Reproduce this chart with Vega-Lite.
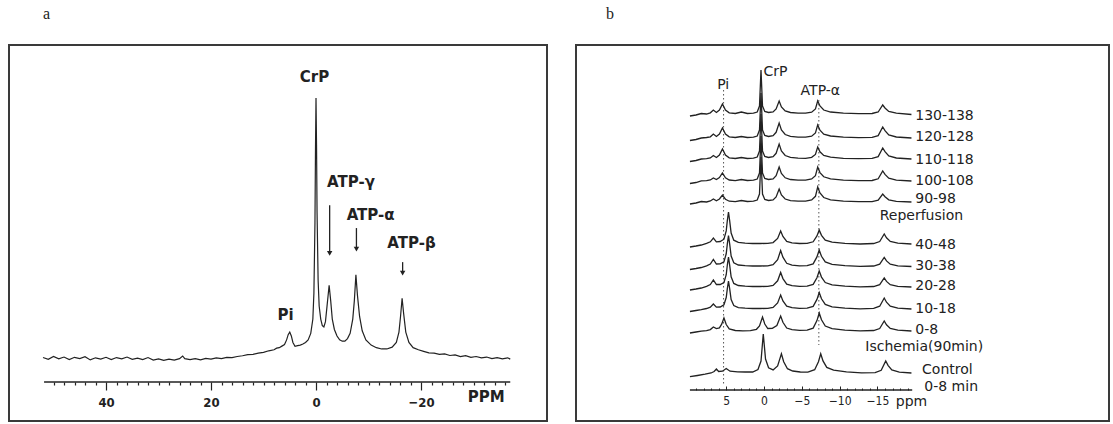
{
  "$schema": "https://vega.github.io/schema/vega-lite/v6.json",
  "background": "white",
  "padding": {"left": 8, "top": 5, "right": 5, "bottom": 3},
  "config": {
    "view": {"stroke": "#3a3a3a", "strokeWidth": 2},
    "title": {"font": "Liberation Serif", "fontSize": 16, "fontWeight": "normal", "anchor": "start", "color": "#222", "baseline": "alphabetic", "offset": 23}
  },
  "spacing": 29,
  "bounds": "flush",
  "datasets": {
    "specA": [
      {"x":52,"y":0.2},{"x":51,"y":-0.5},{"x":50,"y":0.6},{"x":49,"y":-0.3},{"x":48,"y":0.4},{"x":47,"y":-0.6},{"x":46,"y":0.3},{"x":45,"y":-0.2},{"x":44,"y":0.5},{"x":43,"y":-0.7},{"x":42,"y":0.1},{"x":41,"y":-0.4},{"x":40,"y":0.3},{"x":39,"y":-0.6},{"x":38,"y":0.2},{"x":37,"y":-0.3},{"x":36,"y":0.4},{"x":35,"y":-0.5},{"x":34,"y":0.0},{"x":33,"y":-0.6},{"x":32,"y":0.2},{"x":31,"y":-0.8},{"x":30,"y":-0.3},{"x":29,"y":-0.9},{"x":28,"y":-0.4},{"x":27,"y":-0.8},{"x":26,"y":-0.2},{"x":25.4,"y":0.8},{"x":25,"y":-0.2},{"x":24,"y":-0.6},{"x":23,"y":-0.2},{"x":22,"y":-0.7},{"x":21,"y":-0.1},{"x":20,"y":-0.4},{"x":19,"y":0.1},{"x":18,"y":-0.2},{"x":17,"y":0.3},{"x":16,"y":0.2},{"x":15,"y":0.6},{"x":14,"y":0.9},{"x":13,"y":1.3},{"x":12,"y":1.4},{"x":11,"y":1.9},{"x":10,"y":2.2},{"x":9,"y":2.8},{"x":8,"y":3.2},{"x":7.5,"y":3.8},{"x":7,"y":4.0},{"x":6.5,"y":4.6},{"x":6,"y":5.2},{"x":5.6,"y":7},{"x":5.3,"y":9},{"x":5.0,"y":10},{"x":4.7,"y":8.5},{"x":4.4,"y":6},{"x":4.0,"y":4.5},{"x":3.5,"y":4.8},{"x":3.0,"y":5.0},{"x":2.5,"y":5.4},{"x":2.0,"y":6.0},{"x":1.5,"y":7.0},{"x":1.0,"y":9.5},{"x":0.6,"y":15},{"x":0.4,"y":25},{"x":0.2,"y":52},{"x":0.1,"y":80},{"x":0,"y":100},{"x":-0.1,"y":82},{"x":-0.2,"y":56},{"x":-0.4,"y":30},{"x":-0.6,"y":20},{"x":-0.9,"y":15},{"x":-1.2,"y":12.5},{"x":-1.5,"y":12},{"x":-1.8,"y":14},{"x":-2.1,"y":20},{"x":-2.5,"y":28},{"x":-2.8,"y":22},{"x":-3.1,"y":15},{"x":-3.5,"y":11},{"x":-4.0,"y":8.5},{"x":-4.5,"y":7},{"x":-5.0,"y":6.5},{"x":-5.5,"y":6.5},{"x":-6.0,"y":7.5},{"x":-6.5,"y":9.5},{"x":-7.0,"y":15},{"x":-7.3,"y":22},{"x":-7.6,"y":32},{"x":-7.9,"y":24},{"x":-8.3,"y":16},{"x":-8.8,"y":10.5},{"x":-9.5,"y":7},{"x":-10.5,"y":5},{"x":-11.5,"y":4},{"x":-12.5,"y":3.5},{"x":-13.5,"y":3.5},{"x":-14.5,"y":4.2},{"x":-15.3,"y":6},{"x":-15.8,"y":10},{"x":-16.1,"y":16},{"x":-16.4,"y":23},{"x":-16.7,"y":17},{"x":-17.1,"y":10},{"x":-17.7,"y":6},{"x":-18.5,"y":4},{"x":-19.5,"y":3.2},{"x":-20.5,"y":2.6},{"x":-21.5,"y":2.0},{"x":-22.5,"y":1.9},{"x":-23.5,"y":1.4},{"x":-24.5,"y":1.6},{"x":-25.5,"y":1.0},{"x":-26.5,"y":1.2},{"x":-27.5,"y":0.6},{"x":-28.5,"y":0.9},{"x":-29.5,"y":0.3},{"x":-30.5,"y":0.6},{"x":-31.5,"y":0.1},{"x":-32.5,"y":0.4},{"x":-33.5,"y":-0.2},{"x":-34.5,"y":0.2},{"x":-35.5,"y":-0.3},{"x":-36.5,"y":0.1},{"x":-37,"y":-0.4}
    ],
    "axisA": [{"x": 51.8, "x2": -37, "y": -9.23}],
    "arrowsA": [
      {"x": -2.6, "y": 58.8, "tip": 40.3},
      {"x": -7.7, "y": 50, "tip": 41.9},
      {"x": -16.5, "y": 36.9, "tip": 32.7}
    ],
    "labelsA": [
      {"x": 0.3, "y": 108.1, "label": "CrP"},
      {"x": -6.67, "y": 67.7, "label": "ATP-γ"},
      {"x": -10.4, "y": 55, "label": "ATP-α"},
      {"x": -18.2, "y": 44.2, "label": "ATP-β"},
      {"x": 5.8, "y": 16.5, "label": "Pi"},
      {"x": -32.4, "y": -15, "label": "PPM"}
    ],
    "axisB": [{"x": 9.8, "x2": -19.6, "y": 0}],
    "dotsB": [
      {"x": 5.35, "y": 300, "y2": 5},
      {"x": -7.25, "y": 290, "y2": 45}
    ],
    "labelsBLeft": [
      {"x": -20.0, "y": 274, "label": "130-138"},
      {"x": -20.0, "y": 253, "label": "120-128"},
      {"x": -20.0, "y": 230, "label": "110-118"},
      {"x": -20.0, "y": 209, "label": "100-108"},
      {"x": -20.0, "y": 191, "label": "90-98"},
      {"x": -15.3, "y": 174, "label": "Reperfusion"},
      {"x": -20.0, "y": 145, "label": "40-48"},
      {"x": -20.0, "y": 124, "label": "30-38"},
      {"x": -20.0, "y": 104, "label": "20-28"},
      {"x": -20.0, "y": 81, "label": "10-18"},
      {"x": -20.0, "y": 60, "label": "0-8"},
      {"x": -13.4, "y": 43, "label": "Ischemia(90min)"},
      {"x": -20.9, "y": 20, "label": "Control"},
      {"x": -21.2, "y": 3, "label": "0-8 min"}
    ],
    "labelsBCenter": [
      {"x": 5.4, "y": 305, "label": "Pi"},
      {"x": -1.5, "y": 318, "label": "CrP"},
      {"x": -7.45, "y": 299, "label": "ATP-α"},
      {"x": -19.5, "y": -11.5, "label": "ppm"}
    ],
    "specB": [
      {"s":"130-138","x":9.8,"y":274},{"s":"130-138","x":9.0,"y":275},{"s":"130-138","x":8.3,"y":276.5},{"s":"130-138","x":7.6,"y":276},{"s":"130-138","x":7.1,"y":277.2},{"s":"130-138","x":6.7,"y":280},{"s":"130-138","x":6.3,"y":277.5},{"s":"130-138","x":5.9,"y":280},{"s":"130-138","x":5.5,"y":286},{"s":"130-138","x":5.1,"y":280},{"s":"130-138","x":4.6,"y":277.2},{"s":"130-138","x":3.8,"y":276.5},{"s":"130-138","x":3.0,"y":278},{"s":"130-138","x":2.2,"y":276.5},{"s":"130-138","x":1.4,"y":276.8},{"s":"130-138","x":0.9,"y":278},{"s":"130-138","x":0.6,"y":284},{"s":"130-138","x":0.4,"y":320},{"s":"130-138","x":0.2,"y":284},{"s":"130-138","x":-0.1,"y":278.5},{"s":"130-138","x":-0.6,"y":277.5},{"s":"130-138","x":-1.2,"y":278},{"s":"130-138","x":-1.6,"y":281},{"s":"130-138","x":-2.0,"y":289},{"s":"130-138","x":-2.3,"y":283},{"s":"130-138","x":-2.8,"y":279},{"s":"130-138","x":-3.5,"y":277.5},{"s":"130-138","x":-4.5,"y":276.8},{"s":"130-138","x":-5.5,"y":276.8},{"s":"130-138","x":-6.3,"y":277.8},{"s":"130-138","x":-6.8,"y":281},{"s":"130-138","x":-7.1,"y":289},{"s":"130-138","x":-7.4,"y":284},{"s":"130-138","x":-7.9,"y":280},{"s":"130-138","x":-8.8,"y":278},{"s":"130-138","x":-10.5,"y":276.8},{"s":"130-138","x":-12.5,"y":276.3},{"s":"130-138","x":-14.3,"y":276.5},{"s":"130-138","x":-15.1,"y":278},{"s":"130-138","x":-15.7,"y":285},{"s":"130-138","x":-16.0,"y":282},{"s":"130-138","x":-16.5,"y":278.5},{"s":"130-138","x":-17.5,"y":276.8},{"s":"130-138","x":-19.5,"y":275.5},
      {"s":"120-128","x":9.8,"y":249.5},{"s":"120-128","x":9.0,"y":250.5},{"s":"120-128","x":8.3,"y":252},{"s":"120-128","x":7.6,"y":252.5},{"s":"120-128","x":7.1,"y":253.2},{"s":"120-128","x":6.7,"y":256},{"s":"120-128","x":6.3,"y":253.5},{"s":"120-128","x":5.9,"y":256},{"s":"120-128","x":5.5,"y":262},{"s":"120-128","x":5.1,"y":256},{"s":"120-128","x":4.6,"y":253.2},{"s":"120-128","x":3.8,"y":252.5},{"s":"120-128","x":3.0,"y":253.5},{"s":"120-128","x":2.2,"y":252.5},{"s":"120-128","x":1.4,"y":252.8},{"s":"120-128","x":0.9,"y":254},{"s":"120-128","x":0.6,"y":260},{"s":"120-128","x":0.4,"y":297},{"s":"120-128","x":0.2,"y":260},{"s":"120-128","x":-0.1,"y":254.5},{"s":"120-128","x":-0.6,"y":253.5},{"s":"120-128","x":-1.2,"y":254.3},{"s":"120-128","x":-1.6,"y":257.7},{"s":"120-128","x":-2.0,"y":267},{"s":"120-128","x":-2.3,"y":260.1},{"s":"120-128","x":-2.8,"y":255.5},{"s":"120-128","x":-3.5,"y":253.7},{"s":"120-128","x":-4.5,"y":252.9},{"s":"120-128","x":-5.5,"y":252.8},{"s":"120-128","x":-6.3,"y":253.8},{"s":"120-128","x":-6.8,"y":257},{"s":"120-128","x":-7.1,"y":265},{"s":"120-128","x":-7.4,"y":259.8},{"s":"120-128","x":-7.9,"y":255.9},{"s":"120-128","x":-8.8,"y":254},{"s":"120-128","x":-10.5,"y":252.8},{"s":"120-128","x":-12.5,"y":252.3},{"s":"120-128","x":-14.3,"y":252.6},{"s":"120-128","x":-15.1,"y":254.4},{"s":"120-128","x":-15.7,"y":263},{"s":"120-128","x":-16.0,"y":259.3},{"s":"120-128","x":-16.5,"y":255.1},{"s":"120-128","x":-17.5,"y":253},{"s":"120-128","x":-19.5,"y":252},
      {"s":"110-118","x":9.8,"y":228.5},{"s":"110-118","x":9.0,"y":229.5},{"s":"110-118","x":8.3,"y":231},{"s":"110-118","x":7.6,"y":231.3},{"s":"110-118","x":7.1,"y":232},{"s":"110-118","x":6.7,"y":234.5},{"s":"110-118","x":6.3,"y":232.5},{"s":"110-118","x":5.9,"y":235},{"s":"110-118","x":5.5,"y":241},{"s":"110-118","x":5.1,"y":235},{"s":"110-118","x":4.6,"y":232.2},{"s":"110-118","x":3.8,"y":231.5},{"s":"110-118","x":3.0,"y":232.5},{"s":"110-118","x":2.2,"y":231.5},{"s":"110-118","x":1.4,"y":231.8},{"s":"110-118","x":0.9,"y":233},{"s":"110-118","x":0.6,"y":239},{"s":"110-118","x":0.4,"y":276},{"s":"110-118","x":0.2,"y":239},{"s":"110-118","x":-0.1,"y":233.5},{"s":"110-118","x":-0.6,"y":232.5},{"s":"110-118","x":-1.2,"y":233.3},{"s":"110-118","x":-1.6,"y":236.7},{"s":"110-118","x":-2.0,"y":246},{"s":"110-118","x":-2.3,"y":239.1},{"s":"110-118","x":-2.8,"y":234.5},{"s":"110-118","x":-3.5,"y":232.7},{"s":"110-118","x":-4.5,"y":231.9},{"s":"110-118","x":-5.5,"y":231.7},{"s":"110-118","x":-6.3,"y":232.7},{"s":"110-118","x":-6.8,"y":235.6},{"s":"110-118","x":-7.1,"y":243},{"s":"110-118","x":-7.4,"y":238.2},{"s":"110-118","x":-7.9,"y":234.6},{"s":"110-118","x":-8.8,"y":232.8},{"s":"110-118","x":-10.5,"y":231.7},{"s":"110-118","x":-12.5,"y":231.3},{"s":"110-118","x":-14.3,"y":231.6},{"s":"110-118","x":-15.1,"y":233.4},{"s":"110-118","x":-15.7,"y":242},{"s":"110-118","x":-16.0,"y":238.3},{"s":"110-118","x":-16.5,"y":234.1},{"s":"110-118","x":-17.5,"y":232},{"s":"110-118","x":-19.5,"y":231},
      {"s":"100-108","x":9.8,"y":206.5},{"s":"100-108","x":9.0,"y":207.5},{"s":"100-108","x":8.3,"y":209.2},{"s":"100-108","x":7.6,"y":209.3},{"s":"100-108","x":7.1,"y":210},{"s":"100-108","x":6.7,"y":212},{"s":"100-108","x":6.3,"y":210.5},{"s":"100-108","x":5.9,"y":212.5},{"s":"100-108","x":5.5,"y":217},{"s":"100-108","x":5.1,"y":212.2},{"s":"100-108","x":4.6,"y":210},{"s":"100-108","x":3.8,"y":209.4},{"s":"100-108","x":3.0,"y":210.5},{"s":"100-108","x":2.2,"y":209.5},{"s":"100-108","x":1.4,"y":209.8},{"s":"100-108","x":0.9,"y":211},{"s":"100-108","x":0.6,"y":217},{"s":"100-108","x":0.4,"y":254},{"s":"100-108","x":0.2,"y":217},{"s":"100-108","x":-0.1,"y":211.5},{"s":"100-108","x":-0.6,"y":210.5},{"s":"100-108","x":-1.2,"y":211.1},{"s":"100-108","x":-1.6,"y":214.3},{"s":"100-108","x":-2.0,"y":223},{"s":"100-108","x":-2.3,"y":216.6},{"s":"100-108","x":-2.8,"y":212.2},{"s":"100-108","x":-3.5,"y":210.5},{"s":"100-108","x":-4.5,"y":209.8},{"s":"100-108","x":-5.5,"y":209.8},{"s":"100-108","x":-6.3,"y":211},{"s":"100-108","x":-6.8,"y":214.3},{"s":"100-108","x":-7.1,"y":223},{"s":"100-108","x":-7.4,"y":217.4},{"s":"100-108","x":-7.9,"y":213.2},{"s":"100-108","x":-8.8,"y":211.1},{"s":"100-108","x":-10.5,"y":209.8},{"s":"100-108","x":-12.5,"y":209.3},{"s":"100-108","x":-14.3,"y":209.5},{"s":"100-108","x":-15.1,"y":211.2},{"s":"100-108","x":-15.7,"y":219},{"s":"100-108","x":-16.0,"y":215.6},{"s":"100-108","x":-16.5,"y":211.8},{"s":"100-108","x":-17.5,"y":209.9},{"s":"100-108","x":-19.5,"y":209},
      {"s":"90-98","x":9.8,"y":186},{"s":"90-98","x":9.0,"y":187},{"s":"90-98","x":8.3,"y":188.5},{"s":"90-98","x":7.6,"y":188},{"s":"90-98","x":7.1,"y":189},{"s":"90-98","x":6.7,"y":191},{"s":"90-98","x":6.3,"y":189.3},{"s":"90-98","x":5.9,"y":191},{"s":"90-98","x":5.5,"y":195},{"s":"90-98","x":5.1,"y":190.8},{"s":"90-98","x":4.6,"y":188.8},{"s":"90-98","x":3.8,"y":188.3},{"s":"90-98","x":3.0,"y":189.5},{"s":"90-98","x":2.2,"y":188.5},{"s":"90-98","x":1.4,"y":188.8},{"s":"90-98","x":0.9,"y":190},{"s":"90-98","x":0.6,"y":196},{"s":"90-98","x":0.4,"y":233},{"s":"90-98","x":0.2,"y":196},{"s":"90-98","x":-0.1,"y":190.5},{"s":"90-98","x":-0.6,"y":189.5},{"s":"90-98","x":-1.2,"y":190},{"s":"90-98","x":-1.6,"y":193},{"s":"90-98","x":-2.0,"y":201},{"s":"90-98","x":-2.3,"y":195},{"s":"90-98","x":-2.8,"y":191},{"s":"90-98","x":-3.5,"y":189.4},{"s":"90-98","x":-4.5,"y":188.8},{"s":"90-98","x":-5.5,"y":188.9},{"s":"90-98","x":-6.3,"y":190.1},{"s":"90-98","x":-6.8,"y":193.7},{"s":"90-98","x":-7.1,"y":203},{"s":"90-98","x":-7.4,"y":197},{"s":"90-98","x":-7.9,"y":192.5},{"s":"90-98","x":-8.8,"y":190.2},{"s":"90-98","x":-10.5,"y":188.9},{"s":"90-98","x":-12.5,"y":188.3},{"s":"90-98","x":-14.3,"y":188.4},{"s":"90-98","x":-15.1,"y":189.8},{"s":"90-98","x":-15.7,"y":196},{"s":"90-98","x":-16.0,"y":193.3},{"s":"90-98","x":-16.5,"y":190.2},{"s":"90-98","x":-17.5,"y":188.7},{"s":"90-98","x":-19.5,"y":188},
      {"s":"40-48","x":9.8,"y":143},{"s":"40-48","x":9.0,"y":144},{"s":"40-48","x":8.3,"y":145},{"s":"40-48","x":7.6,"y":146.6},{"s":"40-48","x":7.1,"y":148.2},{"s":"40-48","x":6.7,"y":152},{"s":"40-48","x":6.3,"y":148.2},{"s":"40-48","x":5.8,"y":148.5},{"s":"40-48","x":5.3,"y":150.8},{"s":"40-48","x":5.0,"y":159.1},{"s":"40-48","x":4.85,"y":169.7},{"s":"40-48","x":4.7,"y":178},{"s":"40-48","x":4.55,"y":169.7},{"s":"40-48","x":4.35,"y":156.9},{"s":"40-48","x":4.0,"y":149.8},{"s":"40-48","x":3.4,"y":147.6},{"s":"40-48","x":2.5,"y":146.8},{"s":"40-48","x":1.5,"y":146.5},{"s":"40-48","x":0.5,"y":146.5},{"s":"40-48","x":-0.5,"y":146.6},{"s":"40-48","x":-1.2,"y":147.4},{"s":"40-48","x":-1.8,"y":151.6},{"s":"40-48","x":-2.2,"y":159},{"s":"40-48","x":-2.5,"y":153.5},{"s":"40-48","x":-3.0,"y":148.6},{"s":"40-48","x":-3.7,"y":147.2},{"s":"40-48","x":-4.7,"y":146.5},{"s":"40-48","x":-5.7,"y":146.7},{"s":"40-48","x":-6.5,"y":148.2},{"s":"40-48","x":-7.0,"y":154.1},{"s":"40-48","x":-7.3,"y":160},{"s":"40-48","x":-7.6,"y":154.7},{"s":"40-48","x":-8.1,"y":149.9},{"s":"40-48","x":-9.0,"y":147.8},{"s":"40-48","x":-10.7,"y":146.7},{"s":"40-48","x":-12.7,"y":146},{"s":"40-48","x":-14.5,"y":146.5},{"s":"40-48","x":-15.3,"y":148.5},{"s":"40-48","x":-15.9,"y":156},{"s":"40-48","x":-16.2,"y":152.2},{"s":"40-48","x":-16.7,"y":148.5},{"s":"40-48","x":-17.7,"y":146.8},{"s":"40-48","x":-19.5,"y":146},
      {"s":"30-38","x":9.8,"y":120.5},{"s":"30-38","x":9.0,"y":121.5},{"s":"30-38","x":8.3,"y":122.5},{"s":"30-38","x":7.6,"y":124.2},{"s":"30-38","x":7.1,"y":126},{"s":"30-38","x":6.7,"y":130.5},{"s":"30-38","x":6.3,"y":126},{"s":"30-38","x":5.8,"y":126.1},{"s":"30-38","x":5.3,"y":128.2},{"s":"30-38","x":5.0,"y":136.2},{"s":"30-38","x":4.85,"y":146.4},{"s":"30-38","x":4.7,"y":154.5},{"s":"30-38","x":4.55,"y":146.4},{"s":"30-38","x":4.35,"y":134},{"s":"30-38","x":4.0,"y":127.2},{"s":"30-38","x":3.4,"y":125},{"s":"30-38","x":2.5,"y":124.3},{"s":"30-38","x":1.5,"y":124},{"s":"30-38","x":0.5,"y":124},{"s":"30-38","x":-0.5,"y":124.1},{"s":"30-38","x":-1.2,"y":125.3},{"s":"30-38","x":-1.8,"y":130.4},{"s":"30-38","x":-2.2,"y":139.5},{"s":"30-38","x":-2.5,"y":132.8},{"s":"30-38","x":-3.0,"y":126.7},{"s":"30-38","x":-3.7,"y":124.9},{"s":"30-38","x":-4.7,"y":124.1},{"s":"30-38","x":-5.7,"y":124.3},{"s":"30-38","x":-6.5,"y":126.1},{"s":"30-38","x":-7.0,"y":133.1},{"s":"30-38","x":-7.3,"y":140},{"s":"30-38","x":-7.6,"y":133.7},{"s":"30-38","x":-8.1,"y":128.1},{"s":"30-38","x":-9.0,"y":125.6},{"s":"30-38","x":-10.7,"y":124.3},{"s":"30-38","x":-12.7,"y":123.6},{"s":"30-38","x":-14.5,"y":124},{"s":"30-38","x":-15.3,"y":125.8},{"s":"30-38","x":-15.9,"y":132.5},{"s":"30-38","x":-16.2,"y":129.1},{"s":"30-38","x":-16.7,"y":125.8},{"s":"30-38","x":-17.7,"y":124.2},{"s":"30-38","x":-19.5,"y":123.5},
      {"s":"20-28","x":9.8,"y":100},{"s":"20-28","x":9.0,"y":101},{"s":"20-28","x":8.3,"y":102},{"s":"20-28","x":7.6,"y":103.7},{"s":"20-28","x":7.1,"y":105.5},{"s":"20-28","x":6.7,"y":110},{"s":"20-28","x":6.3,"y":105.5},{"s":"20-28","x":5.8,"y":105.5},{"s":"20-28","x":5.3,"y":107.5},{"s":"20-28","x":5.0,"y":115.3},{"s":"20-28","x":4.85,"y":125.2},{"s":"20-28","x":4.7,"y":133},{"s":"20-28","x":4.55,"y":125.2},{"s":"20-28","x":4.35,"y":113.2},{"s":"20-28","x":4.0,"y":106.6},{"s":"20-28","x":3.4,"y":104.5},{"s":"20-28","x":2.5,"y":103.8},{"s":"20-28","x":1.5,"y":103.5},{"s":"20-28","x":0.5,"y":103.5},{"s":"20-28","x":-0.5,"y":103.6},{"s":"20-28","x":-1.2,"y":104.6},{"s":"20-28","x":-1.8,"y":109.2},{"s":"20-28","x":-2.2,"y":117.5},{"s":"20-28","x":-2.5,"y":111.4},{"s":"20-28","x":-3.0,"y":105.9},{"s":"20-28","x":-3.7,"y":104.3},{"s":"20-28","x":-4.7,"y":103.6},{"s":"20-28","x":-5.7,"y":103.8},{"s":"20-28","x":-6.5,"y":105.6},{"s":"20-28","x":-7.0,"y":112.3},{"s":"20-28","x":-7.3,"y":119},{"s":"20-28","x":-7.6,"y":112.9},{"s":"20-28","x":-8.1,"y":107.5},{"s":"20-28","x":-9.0,"y":105.1},{"s":"20-28","x":-10.7,"y":103.8},{"s":"20-28","x":-12.7,"y":103.1},{"s":"20-28","x":-14.5,"y":103.5},{"s":"20-28","x":-15.3,"y":105.3},{"s":"20-28","x":-15.9,"y":112},{"s":"20-28","x":-16.2,"y":108.6},{"s":"20-28","x":-16.7,"y":105.3},{"s":"20-28","x":-17.7,"y":103.7},{"s":"20-28","x":-19.5,"y":103},
      {"s":"10-18","x":9.8,"y":78.5},{"s":"10-18","x":9.0,"y":79.5},{"s":"10-18","x":8.3,"y":80.3},{"s":"10-18","x":7.6,"y":81.5},{"s":"10-18","x":7.1,"y":82.8},{"s":"10-18","x":6.7,"y":86},{"s":"10-18","x":6.3,"y":82.8},{"s":"10-18","x":5.8,"y":83},{"s":"10-18","x":5.3,"y":85.2},{"s":"10-18","x":5.0,"y":92.5},{"s":"10-18","x":4.85,"y":101.7},{"s":"10-18","x":4.7,"y":109},{"s":"10-18","x":4.55,"y":101.7},{"s":"10-18","x":4.35,"y":90.5},{"s":"10-18","x":4.0,"y":84.4},{"s":"10-18","x":3.4,"y":82.4},{"s":"10-18","x":2.5,"y":81.8},{"s":"10-18","x":1.5,"y":81.5},{"s":"10-18","x":0.5,"y":81.5},{"s":"10-18","x":-0.5,"y":81.6},{"s":"10-18","x":-1.2,"y":82.5},{"s":"10-18","x":-1.8,"y":87},{"s":"10-18","x":-2.2,"y":95},{"s":"10-18","x":-2.5,"y":89.1},{"s":"10-18","x":-3.0,"y":83.8},{"s":"10-18","x":-3.7,"y":82.3},{"s":"10-18","x":-4.7,"y":81.6},{"s":"10-18","x":-5.7,"y":81.8},{"s":"10-18","x":-6.5,"y":83.6},{"s":"10-18","x":-7.0,"y":90.6},{"s":"10-18","x":-7.3,"y":97.5},{"s":"10-18","x":-7.6,"y":91.2},{"s":"10-18","x":-8.1,"y":85.6},{"s":"10-18","x":-9.0,"y":83.1},{"s":"10-18","x":-10.7,"y":81.8},{"s":"10-18","x":-12.7,"y":81.1},{"s":"10-18","x":-14.5,"y":81.6},{"s":"10-18","x":-15.3,"y":83.8},{"s":"10-18","x":-15.9,"y":92},{"s":"10-18","x":-16.2,"y":87.8},{"s":"10-18","x":-16.7,"y":83.8},{"s":"10-18","x":-17.7,"y":81.9},{"s":"10-18","x":-19.5,"y":81},
      {"s":"0-8","x":9.8,"y":57},{"s":"0-8","x":9.0,"y":58},{"s":"0-8","x":8.3,"y":58.8},{"s":"0-8","x":7.6,"y":59.4},{"s":"0-8","x":7.1,"y":60.4},{"s":"0-8","x":6.7,"y":63},{"s":"0-8","x":6.3,"y":61.4},{"s":"0-8","x":5.9,"y":62.1},{"s":"0-8","x":5.6,"y":65.8},{"s":"0-8","x":5.3,"y":72},{"s":"0-8","x":5.0,"y":65.5},{"s":"0-8","x":4.6,"y":61.1},{"s":"0-8","x":3.8,"y":59.5},{"s":"0-8","x":2.8,"y":59.2},{"s":"0-8","x":1.8,"y":59.3},{"s":"0-8","x":1.0,"y":60.7},{"s":"0-8","x":0.6,"y":64},{"s":"0-8","x":0.2,"y":73},{"s":"0-8","x":-0.1,"y":66},{"s":"0-8","x":-0.5,"y":61.5},{"s":"0-8","x":-1.1,"y":61.6},{"s":"0-8","x":-1.7,"y":64.5},{"s":"0-8","x":-2.2,"y":74},{"s":"0-8","x":-2.5,"y":67.7},{"s":"0-8","x":-3.0,"y":62},{"s":"0-8","x":-3.7,"y":60.3},{"s":"0-8","x":-4.7,"y":59.6},{"s":"0-8","x":-5.7,"y":59.9},{"s":"0-8","x":-6.5,"y":61.9},{"s":"0-8","x":-7.0,"y":69.4},{"s":"0-8","x":-7.3,"y":77},{"s":"0-8","x":-7.6,"y":70.2},{"s":"0-8","x":-8.1,"y":64},{"s":"0-8","x":-9.0,"y":61.3},{"s":"0-8","x":-10.7,"y":59.9},{"s":"0-8","x":-12.7,"y":59.2},{"s":"0-8","x":-14.5,"y":59.5},{"s":"0-8","x":-15.3,"y":61.5},{"s":"0-8","x":-15.9,"y":69},{"s":"0-8","x":-16.2,"y":65.2},{"s":"0-8","x":-16.7,"y":61.5},{"s":"0-8","x":-17.7,"y":59.8},{"s":"0-8","x":-19.5,"y":59},
      {"s":"Control","x":9.8,"y":13.3},{"s":"Control","x":8.8,"y":14.5},{"s":"Control","x":7.8,"y":15.8},{"s":"Control","x":7.0,"y":17},{"s":"Control","x":6.6,"y":18.5},{"s":"Control","x":6.3,"y":21},{"s":"Control","x":6.0,"y":18.5},{"s":"Control","x":5.5,"y":18.8},{"s":"Control","x":5.0,"y":21.5},{"s":"Control","x":4.5,"y":18.8},{"s":"Control","x":3.5,"y":18.2},{"s":"Control","x":2.5,"y":18},{"s":"Control","x":1.5,"y":18},{"s":"Control","x":0.8,"y":20.5},{"s":"Control","x":0.4,"y":29},{"s":"Control","x":0.1,"y":56},{"s":"Control","x":-0.2,"y":31},{"s":"Control","x":-0.6,"y":22.2},{"s":"Control","x":-1.2,"y":20.1},{"s":"Control","x":-1.8,"y":24.1},{"s":"Control","x":-2.3,"y":36.3},{"s":"Control","x":-2.6,"y":28.3},{"s":"Control","x":-3.1,"y":21.3},{"s":"Control","x":-3.8,"y":19},{"s":"Control","x":-4.8,"y":18},{"s":"Control","x":-5.8,"y":17.9},{"s":"Control","x":-6.7,"y":20.3},{"s":"Control","x":-7.2,"y":28.3},{"s":"Control","x":-7.5,"y":36.3},{"s":"Control","x":-7.8,"y":29.1},{"s":"Control","x":-8.3,"y":22.6},{"s":"Control","x":-9.2,"y":19.8},{"s":"Control","x":-10.9,"y":18.2},{"s":"Control","x":-12.9,"y":17.2},{"s":"Control","x":-14.7,"y":17.3},{"s":"Control","x":-15.5,"y":19.7},{"s":"Control","x":-16.1,"y":29},{"s":"Control","x":-16.4,"y":24.7},{"s":"Control","x":-16.9,"y":20},{"s":"Control","x":-17.9,"y":17.9},{"s":"Control","x":-19.5,"y":17}
    ]
  },
  "hconcat": [
    {
      "width": 538,
      "height": 376,
      "title": {"text": "a", "dx": 34},
      "encoding": {
        "x": {
          "field": "x", "type": "quantitative",
          "scale": {"domain": [-44.0, 58.48], "reverse": true, "nice": false, "zero": false},
          "axis": {
            "orient": "bottom", "offset": -39, "domain": false, "grid": false, "title": null,
            "values": [-36,-34,-32,-30,-28,-26,-24,-22,-20,-18,-16,-14,-12,-10,-8,-6,-4,-2,0,2,4,6,8,10,12,14,16,18,20,22,24,26,28,30,32,34,36,38,40,42,44,46,48,50],
            "tickColor": "#222", "tickWidth": 1.2,
            "tickSize": {"condition": {"test": "datum.value % 20 === 0", "value": 8}, "value": 3},
            "labelExpr": "datum.value % 20 === 0 ? datum.label : ''",
            "labelFont": "DejaVu Sans Condensed", "labelFontWeight": "bold", "labelFontSize": 13, "labelColor": "#222",
            "labelPadding": 6, "labelOverlap": false, "labelFlush": false, "labelBound": false
          }
        },
        "y": {"field": "y", "type": "quantitative", "scale": {"domain": [-24.2, 120.4], "nice": false, "zero": false}, "axis": null}
      },
      "layer": [
        {"data": {"name": "specA"}, "mark": {"type": "line", "stroke": "#222", "strokeWidth": 1.2}},
        {"data": {"name": "axisA"}, "mark": {"type": "rule", "stroke": "#222", "strokeWidth": 1.6}, "encoding": {"x2": {"field": "x2"}}},
        {"data": {"name": "arrowsA"}, "mark": {"type": "rule", "stroke": "#222", "strokeWidth": 1.3}, "encoding": {"y2": {"field": "tip"}}},
        {"data": {"name": "arrowsA"}, "mark": {"type": "point", "shape": "triangle-down", "filled": true, "size": 30, "color": "#222", "opacity": 1}, "encoding": {"y": {"field": "tip", "type": "quantitative"}}},
        {"data": {"name": "labelsA"}, "mark": {"type": "text", "font": "DejaVu Sans", "fontSize": 15, "fontWeight": "bold", "fill": "#222"}, "encoding": {"text": {"field": "label"}}}
      ]
    },
    {
      "width": 533,
      "height": 376,
      "title": {"text": "b", "dx": 30},
      "encoding": {
        "x": {
          "field": "x", "type": "quantitative",
          "scale": {"domain": [-45.63, 24.87], "reverse": true, "nice": false, "zero": false},
          "axis": {
            "orient": "bottom", "offset": -31, "domain": false, "grid": false, "title": null,
            "values": [-19,-18,-17,-16,-15,-14,-13,-12,-11,-10,-9,-8,-7,-6,-5,-4,-3,-2,-1,0,1,2,3,4,5,6,7,8,9],
            "tickColor": "#222", "tickWidth": 1,
            "tickSize": {"condition": {"test": "datum.value % 5 === 0", "value": -4}, "value": -2},
            "labelExpr": "datum.value % 5 === 0 ? datum.label : ''",
            "labelFont": "DejaVu Sans Condensed", "labelFontSize": 12, "labelColor": "#222",
            "labelPadding": 9, "labelOverlap": false, "labelFlush": false, "labelBound": false
          }
        },
        "y": {"field": "y", "type": "quantitative", "scale": {"domain": [-31, 345], "nice": false, "zero": false}, "axis": null}
      },
      "layer": [
        {"data": {"name": "dotsB"}, "mark": {"type": "rule", "stroke": "#555", "strokeWidth": 1, "strokeDash": [1.5, 2.5]}, "encoding": {"y2": {"field": "y2"}}},
        {"data": {"name": "specB"}, "mark": {"type": "line", "stroke": "#222", "strokeWidth": 1.3}, "encoding": {"detail": {"field": "s"}}},
        {"data": {"name": "axisB"}, "mark": {"type": "rule", "stroke": "#222", "strokeWidth": 1.3}, "encoding": {"x2": {"field": "x2"}}},
        {"data": {"name": "labelsBLeft"}, "mark": {"type": "text", "align": "left", "font": "DejaVu Sans", "fontSize": 14, "fill": "#222"}, "encoding": {"text": {"field": "label"}}},
        {"data": {"name": "labelsBCenter"}, "mark": {"type": "text", "align": "center", "font": "DejaVu Sans", "fontSize": 14, "fill": "#222"}, "encoding": {"text": {"field": "label"}}}
      ]
    }
  ]
}
